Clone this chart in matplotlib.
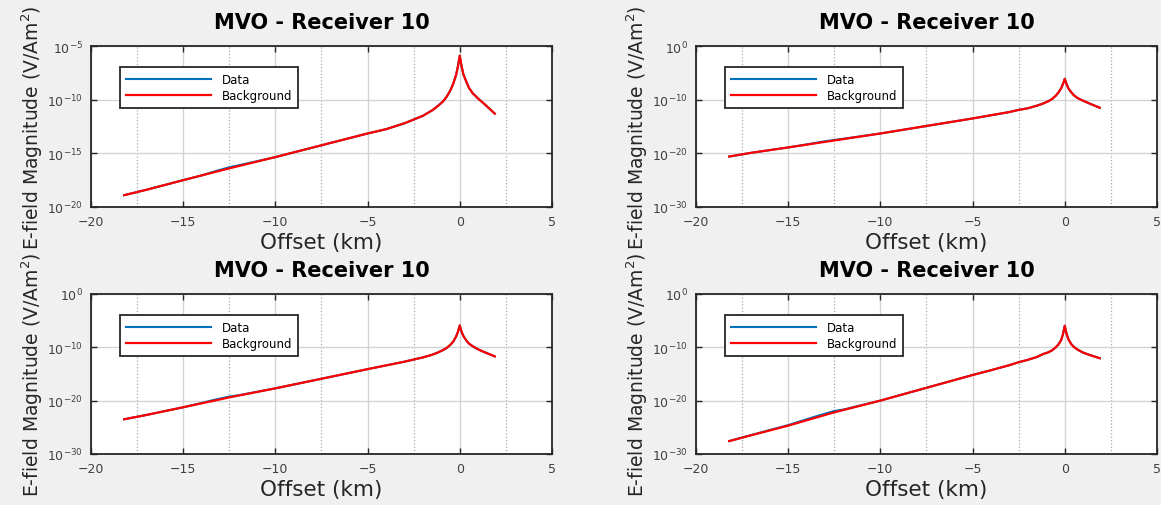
import numpy as np
import matplotlib
matplotlib.use("Agg")
import matplotlib.pyplot as plt
from matplotlib.ticker import FixedLocator, MultipleLocator, NullLocator, LogFormatterSciNotation

# offsets (km) shared by all four panels
offset_km = [-18.2, -17, -15, -14, -13.25, -12.5, -12, -10, -7.5, -5, -4, -3, -2.5, -2,
             -1.5, -1.2, -0.9, -0.7, -0.5, -0.35, -0.2, -0.1, 0, 0.1, 0.2, 0.35, 0.5,
             0.7, 1.0, 1.4, 1.9]

# log10 of E-field magnitude
bg_tl = [-18.9, -18.4, -17.5, -17.06, -16.73, -16.4, -16.19, -15.35, -14.25, -13.15, -12.75,
         -12.2, -11.85, -11.5, -11.0, -10.6, -10.15, -9.7, -9.1, -8.5, -7.7, -6.9, -5.9,
         -6.9, -7.65, -8.3, -8.9, -9.4, -9.9, -10.5, -11.3]
data_tl = [-18.9, -18.4, -17.5, -17.06, -16.66, -16.3, -16.12, -15.35, -14.25, -13.15, -12.75,
           -12.2, -11.85, -11.5, -11.0, -10.6, -10.15, -9.7, -9.1, -8.5, -7.7, -6.9, -5.9,
           -6.9, -7.65, -8.3, -8.9, -9.4, -9.9, -10.5, -11.3]

bg_tr = [-20.6, -19.9, -18.9, -18.38, -17.99, -17.6, -17.34, -16.3, -14.9, -13.5, -12.9,
         -12.3, -11.9, -11.6, -11.1, -10.75, -10.3, -9.9, -9.3, -8.7, -7.9, -7.1, -6.1,
         -7.1, -7.9, -8.6, -9.2, -9.7, -10.2, -10.8, -11.5]
data_tr = [-20.6, -19.9, -18.9, -18.34, -17.88, -17.5, -17.28, -16.3, -14.9, -13.5, -12.9,
           -12.3, -11.9, -11.6, -11.1, -10.75, -10.3, -9.9, -9.3, -8.7, -7.9, -7.1, -6.1,
           -7.1, -7.9, -8.6, -9.2, -9.7, -10.2, -10.8, -11.5]

bg_bl = [-23.5, -22.7, -21.25, -20.51, -19.96, -19.4, -19.06, -17.7, -15.9, -14.1, -13.4,
         -12.7, -12.3, -11.9, -11.4, -11.0, -10.5, -10.1, -9.5, -8.9, -8.0, -7.1, -5.9,
         -7.1, -7.9, -8.7, -9.3, -9.8, -10.4, -11.0, -11.7]
data_bl = [-23.5, -22.7, -21.25, -20.45, -19.8, -19.25, -19.0, -17.7, -15.9, -14.1, -13.4,
           -12.7, -12.3, -11.9, -11.4, -11.0, -10.5, -10.1, -9.5, -8.9, -8.0, -7.1, -5.9,
           -7.1, -7.9, -8.7, -9.3, -9.8, -10.4, -11.0, -11.7]

bg_br = [-27.6, -26.5, -24.7, -23.7, -22.95, -22.2, -21.76, -20.0, -17.6, -15.2, -14.3,
         -13.35, -12.8, -12.35, -11.8, -11.3, -10.95, -10.6, -10.05, -9.5, -8.7, -7.6, -5.95,
         -7.5, -8.5, -9.4, -9.95, -10.45, -11.0, -11.5, -12.05]
data_br = [-27.6, -26.45, -24.6, -23.5, -22.7, -21.95, -21.68, -20.0, -17.6, -15.2, -14.3,
           -13.35, -12.8, -12.35, -11.8, -11.3, -10.95, -10.6, -10.05, -9.5, -8.7, -7.6, -5.95,
           -7.5, -8.5, -9.4, -9.95, -10.45, -11.0, -11.5, -12.05]

yticks_tl = [1e-20, 1e-15, 1e-10, 1e-5]
yticks_other = [1e-30, 1e-20, 1e-10, 1e0]
xticks = [-20, -15, -10, -5, 0, 5]

panels = [
    ([0.0784, 0.589, 0.397, 0.318], data_tl, bg_tl, yticks_tl),
    ([0.5995, 0.589, 0.397, 0.318], data_tr, bg_tr, yticks_other),
    ([0.0784, 0.101, 0.397, 0.316], data_bl, bg_bl, yticks_other),
    ([0.5995, 0.101, 0.397, 0.316], data_br, bg_br, yticks_other),
]

fig = plt.figure(figsize=(11.61, 5.06), dpi=100, facecolor="#f0f0f0")

for rect, data_log, bg_log, yt in panels:
    ax = fig.add_axes(rect)
    ax.set_facecolor("white")
    ax.semilogy(offset_km, 10.0 ** np.array(data_log), color="#0072BD", lw=1.5, label="Data")
    ax.semilogy(offset_km, 10.0 ** np.array(bg_log), color="#ff0000", lw=1.6, label="Background")

    ax.set_xlim(-20, 5)
    ax.set_ylim(yt[0], yt[-1])
    ax.xaxis.set_major_locator(FixedLocator(xticks))
    ax.xaxis.set_minor_locator(MultipleLocator(2.5))
    ax.yaxis.set_major_locator(FixedLocator(yt))
    ax.yaxis.set_major_formatter(LogFormatterSciNotation())
    ax.yaxis.set_minor_locator(NullLocator())

    ax.grid(True, which="major", color="#d4d4d4", lw=1.0, ls="-")
    ax.grid(True, which="minor", axis="x", color="#a8a8a8", lw=0.9, ls=":")
    ax.set_axisbelow(True)

    ax.tick_params(which="major", direction="in", top=True, right=True, length=4,
                   width=1.0, color="#262626", labelcolor="#404040", labelsize=9, pad=6)
    ax.tick_params(which="minor", length=0)
    for sp in ax.spines.values():
        sp.set_color("#262626")
        sp.set_linewidth(1.3)

    ax.set_title("MVO - Receiver 10", fontsize=15, fontweight="bold", pad=13)
    ax.set_xlabel("Offset (km)", fontsize=15.5, color="#262626", labelpad=3)
    ax.set_ylabel("E-field Magnitude (V/Am$^2$)", fontsize=13.5, color="#262626")
    ax.yaxis.set_label_coords(-0.10, 0.5)

    leg = ax.legend(loc="upper left", bbox_to_anchor=(0.063, 0.87), borderaxespad=0,
                    fontsize=8.5, handlelength=7.2, handletextpad=0.9, labelspacing=0.3,
                    borderpad=0.5, fancybox=False, framealpha=1, edgecolor="#262626")
    leg.get_frame().set_linewidth(1.3)

fig.savefig("out.png", dpi=100, facecolor=fig.get_facecolor())
